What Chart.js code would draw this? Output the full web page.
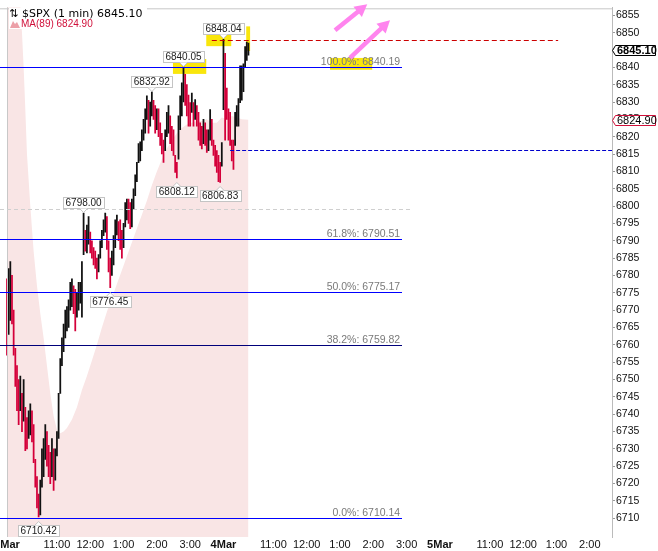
<!DOCTYPE html>
<html>
<head>
<meta charset="utf-8">
<script src="https://cdn.jsdelivr.net/npm/chart.js@4.4.1/dist/chart.umd.min.js"></script>
<style>
  html, body { margin: 0; padding: 0; background: #fff; }
  #wrap { width: 658px; height: 551px; }
</style>
</head>
<body>
<div id="wrap"><canvas id="chart"></canvas></div>
<script>
// one bar = 3 trading minutes, minute 0 = 9:30 on 3 Mar, 390 = 9:30 on 4 Mar
const BAR_MIN = 3;
const highs = [
  6779, 6782, 6784, 6780, 6770, 6759, 6754, 6750, 6751, 6746,
  6750, 6742, 6739, 6741, 6743, 6741, 6737, 6727, 6722, 6717,
  6721, 6730, 6733, 6737, 6735, 6731, 6729, 6733, 6730, 6730,
  6735, 6746, 6756, 6762, 6766, 6770, 6771, 6773, 6778, 6779,
  6777, 6776, 6775, 6778, 6778, 6784, 6798.00, 6793, 6794.5, 6797,
  6792.5, 6790, 6788, 6787, 6785, 6786, 6790, 6793, 6796, 6798,
  6797, 6790, 6785, 6787, 6791.5, 6796, 6797.4, 6795.5, 6796, 6793,
  6795, 6801, 6802, 6802, 6801, 6802, 6805, 6809, 6812.6, 6818,
  6818.5, 6822, 6825, 6828, 6831.8, 6830.5, 6830, 6832.92, 6830.5, 6829,
  6828, 6828, 6824, 6821, 6819, 6822, 6827, 6829, 6826, 6823,
  6822, 6814.6, 6812.6, 6826, 6831.8, 6835.5, 6840.05, 6838, 6835, 6832,
  6829.8, 6832.6, 6829.8, 6830.7, 6829, 6827, 6824, 6823, 6825, 6824,
  6822, 6822, 6827.8, 6825, 6819, 6817.5, 6816, 6814.6, 6812.6, 6818.3,
  6848.04, 6844, 6834, 6828, 6827, 6819, 6819, 6827, 6829, 6831,
  6840.4, 6840.4, 6841, 6846, 6847.3, 6847
];
const lows = [
  6757, 6763, 6767, 6766, 6757, 6748, 6741, 6737, 6741, 6735,
  6738, 6729.5, 6730, 6733, 6734, 6732, 6726, 6719, 6713, 6710.42,
  6711, 6719, 6722, 6727, 6725, 6722, 6720, 6722, 6718, 6721,
  6728, 6733, 6746, 6754, 6758, 6762, 6764, 6765, 6770, 6771,
  6769, 6764, 6768, 6770, 6772, 6768, 6786, 6787, 6786.5, 6789,
  6786.5, 6785, 6783, 6782, 6779, 6781, 6785, 6788, 6791.5, 6792.5,
  6787.5, 6781, 6776.45, 6780, 6783, 6788, 6791.7, 6790, 6787.5, 6785,
  6788, 6794, 6796, 6795, 6793.5, 6794, 6799, 6803, 6807, 6812.5,
  6813, 6816, 6819, 6821, 6825, 6821, 6823, 6826, 6825, 6821,
  6822, 6820, 6817.5, 6815, 6812.6, 6816, 6820, 6821, 6818, 6816,
  6814.6, 6809.7, 6808.12, 6813.5, 6822, 6826, 6830, 6829, 6826, 6823,
  6823, 6827, 6823, 6825, 6823, 6819, 6817.5, 6816.5, 6818, 6817.5,
  6815.5, 6816, 6819, 6817.5, 6814.6, 6811.5, 6809.7, 6807, 6806.83, 6811.5,
  6827.8, 6819, 6825, 6819, 6817.5, 6813, 6810.6, 6817.5, 6823, 6823,
  6829.8, 6830.5, 6833, 6840, 6842, 6843.5
];

// MA(89)
const maMinutes = [0, 9, 18, 24, 27, 30, 33, 36, 42, 48, 54, 60, 66, 72, 78, 84, 90, 96, 102, 108,
  117, 126, 135, 144, 153, 162, 171, 180, 189, 198, 207, 216, 225, 234, 243, 252, 261, 270, 279, 288,
  297, 306, 315, 324, 333, 342, 351, 360, 369, 378, 387, 396, 405, 414, 423, 435];
const maValues = [6875, 6870, 6864, 6858, 6850, 6840, 6828, 6815, 6800, 6787, 6777, 6769, 6762, 6754, 6746, 6739.5, 6735.5, 6734.5, 6735, 6736,
  6738.5, 6742, 6747, 6751, 6755.5, 6760, 6765, 6769.5, 6773.5, 6777.5, 6781.5, 6785.5, 6789.5, 6793.5, 6797.5, 6801.5, 6806, 6810, 6813.5, 6816.5,
  6819, 6821, 6822.5, 6823.5, 6824, 6824.5, 6824.5, 6825, 6824, 6824, 6825.5, 6825, 6826, 6825.5, 6825, 6824.9];

const xTickMinutes = [0, 90, 150, 210, 270, 330, 390, 480, 540, 600, 660, 720, 780, 870, 930, 990, 1050];
const xTickLabels = ["3Mar", "11:00", "12:00", "1:00", "2:00", "3:00", "4Mar", "11:00", "12:00", "1:00", "2:00", "3:00", "5Mar", "11:00", "12:00", "1:00", "2:00"];
const dayTicks = [0, 390, 780];
const yTicks = [6710, 6715, 6720, 6725, 6730, 6735, 6740, 6745, 6750, 6755, 6760, 6765, 6770, 6775, 6780,
  6785, 6790, 6795, 6800, 6805, 6810, 6815, 6820, 6825, 6830, 6835, 6840, 6845, 6850, 6855];

const fibLabels = ["100.0%", "61.8%", "50.0%", "38.2%", "0.0%"];
const fibValues = [6840.19, 6790.51, 6775.17, 6759.82, 6710.14];
const fibEnd = 712;

// bars that carry a price tag: [bar index, "high" | "low"]
const tagBars = [[19, "low"], [46, "high"], [62, "low"], [87, "high"], [102, "low"], [106, "high"], [128, "low"], [130, "high"]];

const lastPrice = 6845.10;
const lastMA = 6824.90;

const FONT = '"Liberation Sans", Arial, sans-serif';
const UP = "#111111";
const DOWN = "#d4003a";

const barColors = highs.map((h, i) => {
  if (i === 0) return DOWN;
  return h + lows[i] < highs[i - 1] + lows[i - 1] ? DOWN : UP;
});

function solidLine(ctx, x1, x2, y, color) {
  ctx.save();
  ctx.fillStyle = color;
  ctx.fillRect(Math.round(x1), Math.round(y), Math.round(x2 - x1), 1);
  ctx.restore();
}

function dashedLine(ctx, x1, x2, y, color, dash) {
  ctx.save();
  ctx.strokeStyle = color;
  ctx.lineWidth = 1;
  ctx.setLineDash(dash);
  ctx.beginPath();
  ctx.moveTo(x1, Math.round(y) + 0.5);
  ctx.lineTo(x2, Math.round(y) + 0.5);
  ctx.stroke();
  ctx.restore();
}

function priceTag(ctx, x, yAnchor, text, above) {
  ctx.save();
  ctx.font = "10px " + FONT;
  const w = Math.round(ctx.measureText(text).width + 5);
  const h = 11;
  const gap = above ? 5 : 8;
  const left = Math.round(x - w / 2) + 0.5;
  const top = Math.round(above ? yAnchor - gap - h : yAnchor + gap) + 0.5;
  ctx.fillStyle = "#fff";
  ctx.strokeStyle = "#c4c4c4";
  ctx.fillRect(left, top, w, h);
  ctx.strokeRect(left, top, w, h);
  ctx.beginPath();
  if (above) {
    ctx.moveTo(x - 4, top + h);
    ctx.lineTo(x, top + h + 4);
    ctx.lineTo(x + 4, top + h);
  } else {
    ctx.moveTo(x - 4, top);
    ctx.lineTo(x, top - 4);
    ctx.lineTo(x + 4, top);
  }
  ctx.fill();
  ctx.stroke();
  ctx.fillStyle = "#222";
  ctx.textAlign = "center";
  ctx.textBaseline = "middle";
  ctx.fillText(text, x, top + h / 2 + 0.5);
  ctx.restore();
}

function arrow(ctx, x1, y1, x2, y2) {
  const ang = Math.atan2(y2 - y1, x2 - x1);
  const head = 14;
  ctx.save();
  ctx.strokeStyle = "#ff84ee";
  ctx.fillStyle = "#ff84ee";
  ctx.lineWidth = 4.5;
  ctx.beginPath();
  ctx.moveTo(x1, y1);
  ctx.lineTo(x2 - Math.cos(ang) * head * 0.8, y2 - Math.sin(ang) * head * 0.8);
  ctx.stroke();
  ctx.beginPath();
  ctx.moveTo(x2, y2);
  ctx.lineTo(x2 - head * Math.cos(ang - 0.5), y2 - head * Math.sin(ang - 0.5));
  ctx.lineTo(x2 - head * Math.cos(ang + 0.5), y2 - head * Math.sin(ang + 0.5));
  ctx.closePath();
  ctx.fill();
  ctx.restore();
}

function badge(ctx, right, y, text, border, bold) {
  ctx.save();
  const cy = Math.round(y) + 0.5;
  ctx.beginPath();
  ctx.moveTo(right + 0.5, cy);
  ctx.lineTo(right + 3.5, cy - 5);
  ctx.lineTo(655.5, cy - 5);
  ctx.lineTo(655.5, cy + 5);
  ctx.lineTo(right + 3.5, cy + 5);
  ctx.closePath();
  ctx.fillStyle = "#fff";
  ctx.fill();
  ctx.strokeStyle = border;
  ctx.lineWidth = 1;
  ctx.stroke();
  ctx.fillStyle = "#000";
  ctx.font = (bold ? "bold " : "") + "11px " + FONT;
  ctx.textBaseline = "middle";
  ctx.fillText(text, right + 5, cy + 0.5);
  ctx.restore();
}

const annotations = {
  id: "annotations",
  beforeDatasetsDraw(chart) {
    const { ctx, scales: { x, y } } = chart;
    // yellow highlights
    const boxes = [[299, 359, 6842.4, 6838.1], [359, 404, 6850.1, 6846.1], [431, 438, 6851.8, 6844.7], [582, 658, 6842.7, 6839.3]];
    ctx.save();
    ctx.fillStyle = "#f9e60c";
    boxes.forEach(([m1, m2, v1, v2]) => {
      const x1 = x.getPixelForValue(m1), x2 = x.getPixelForValue(m2);
      const y1 = y.getPixelForValue(v1), y2 = y.getPixelForValue(v2);
      ctx.fillRect(x1, y1, x2 - x1, y2 - y1);
    });
    ctx.restore();
  },
  afterDatasetsDraw(chart) {
    const { ctx, chartArea: a, scales: { x, y } } = chart;
    // session start and top frame
    ctx.save();
    ctx.fillStyle = "#c8c8c8";
    ctx.fillRect(Math.round(x.getPixelForValue(0)), a.top, 1, a.bottom - a.top);
    ctx.fillRect(a.left, a.top + 1, a.right - a.left, 1);
    ctx.restore();

    dashedLine(ctx, a.left, x.getPixelForValue(728), y.getPixelForValue(6799.2), "#cfcfcf", [4, 3]);

    // fibonacci retracement
    fibValues.forEach((v, i) => {
      const yy = y.getPixelForValue(v);
      const xe = x.getPixelForValue(fibEnd);
      solidLine(ctx, a.left, xe, yy, fibLabels[i] === "38.2%" ? "#00007a" : "#0000ff");
      ctx.save();
      ctx.font = "10.5px " + FONT;
      ctx.fillStyle = "#7a7a7a";
      ctx.textAlign = "right";
      ctx.textBaseline = "alphabetic";
      ctx.fillText(fibLabels[i] + ": " + v.toFixed(2), xe - 2, Math.round(yy) - 2);
      ctx.restore();
    });

    dashedLine(ctx, x.getPixelForValue(369), x.getPixelForValue(993), y.getPixelForValue(6848.0), "#cc0000", [5, 3]);
    dashedLine(ctx, x.getPixelForValue(402), a.right, y.getPixelForValue(6816.2), "#0000cc", [4, 2]);

    tagBars.forEach(([i, kind]) => {
      const v = kind === "high" ? highs[i] : lows[i];
      priceTag(ctx, x.getPixelForValue(i * BAR_MIN), y.getPixelForValue(v), v.toFixed(2), kind === "high");
    });

    arrow(ctx, x.getPixelForValue(591), y.getPixelForValue(6850.7), x.getPixelForValue(649), y.getPixelForValue(6858.2));
    arrow(ctx, x.getPixelForValue(618), y.getPixelForValue(6842.7), x.getPixelForValue(690), y.getPixelForValue(6853.6));
  },
  afterDraw(chart) {
    const { ctx, chartArea: a, scales: { y } } = chart;
    // legend
    ctx.save();
    ctx.fillStyle = "#fff";
    ctx.fillRect(9, 8, 138, 11);
    ctx.fillRect(9, 19, 82, 10);
    ctx.fillStyle = "#000";
    ctx.textBaseline = "middle";
    ctx.font = '11px "DejaVu Sans", sans-serif';
    ctx.fillText("\u21C5", 9, 14);
    ctx.fillText("$SPX (1 min) " + lastPrice.toFixed(2), 22, 14);
    ctx.fillStyle = "#eca0a8";
    ctx.beginPath();
    ctx.moveTo(10, 28);
    ctx.lineTo(13, 21);
    ctx.lineTo(15, 24);
    ctx.lineTo(17, 22);
    ctx.lineTo(20, 28);
    ctx.closePath();
    ctx.fill();
    ctx.fillStyle = "#d0103a";
    ctx.font = "10px " + FONT;
    ctx.fillText("MA(89) " + lastMA.toFixed(2), 21, 24.5);
    ctx.restore();

    badge(ctx, a.right, y.getPixelForValue(lastPrice), lastPrice.toFixed(2), "#000", true);
    badge(ctx, a.right, y.getPixelForValue(lastMA), lastMA.toFixed(2), "#d0103a", false);
  }
};

new Chart(document.getElementById("chart"), {
  type: "bar",
  data: {
    datasets: [
      {
        type: "bar",
        data: highs.map((h, i) => ({ x: i * BAR_MIN, y: [lows[i], h] })),
        backgroundColor: barColors,
        barThickness: 1.1,
        order: 1,
      },
      {
        type: "line",
        data: maMinutes.map((m, i) => ({ x: m, y: maValues[i] })),
        fill: "start",
        backgroundColor: "#f9e5e5",
        borderColor: "rgba(0,0,0,0)",
        borderWidth: 0,
        pointRadius: 0,
        order: 2,
      },
    ],
  },
  options: {
    responsive: true,
    maintainAspectRatio: false,
    animation: false,
    layout: { padding: { top: 4, left: 0, right: 0, bottom: 0 } },
    plugins: { legend: { display: false }, tooltip: { enabled: false } },
    scales: {
      x: {
        type: "linear",
        offset: false,
        min: -12.6,
        max: 1090,
        grid: { display: false, drawTicks: false, offset: false },
        border: { display: false },
        afterBuildTicks: (s) => { s.ticks = xTickMinutes.map((v) => ({ value: v })); },
        afterFit: (s) => { s.height = 14; s.paddingLeft = 0; s.paddingRight = 0; },
        ticks: {
          autoSkip: false,
          maxRotation: 0,
          padding: 1,
          color: "#111",
          font: (c) => ({ family: FONT, size: 11, weight: c.tick && dayTicks.includes(c.tick.value) ? "bold" : "normal" }),
          callback: (v, i) => xTickLabels[i],
        },
      },
      y: {
        position: "right",
        min: 6704.6,
        max: 6857.3,
        afterBuildTicks: (s) => { s.ticks = yTicks.map((v) => ({ value: v })); },
        afterFit: (s) => { s.width = 46; },
        grid: { drawOnChartArea: false, drawTicks: true, tickLength: 3, color: "#999" },
        border: { display: true, color: "#bbb" },
        ticks: { padding: 1, color: "#111", font: { family: FONT, size: 10.5 }, callback: (v) => String(v) },
      },
    },
  },
  plugins: [annotations],
});
</script>
</body>
</html>
